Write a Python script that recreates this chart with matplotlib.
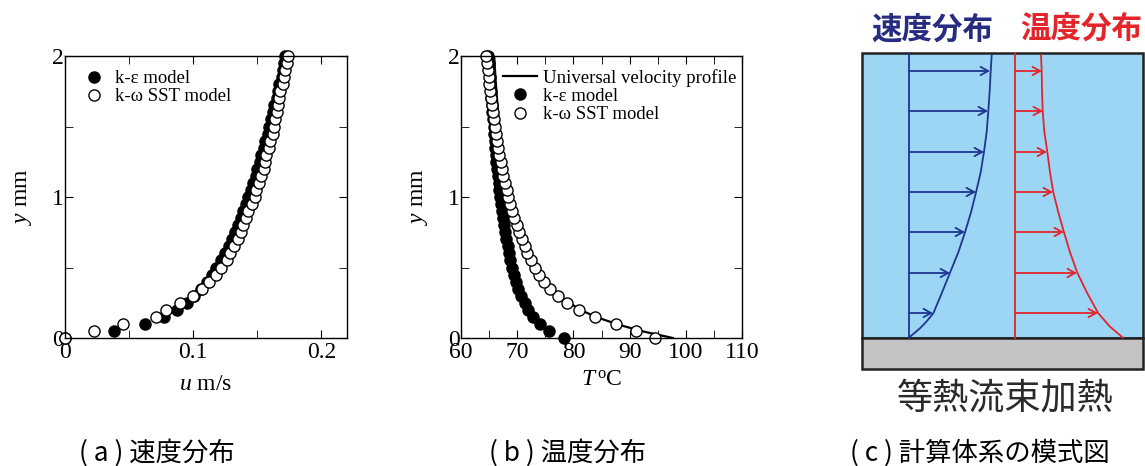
import matplotlib
matplotlib.use("Agg")
import matplotlib.pyplot as plt
import numpy as np
from matplotlib.patches import Rectangle
from matplotlib.ticker import MultipleLocator

# 高さ y [mm] (0 - 2 mm, 0.05 mm ピッチ)
y_mm = [0.00, 0.05, 0.10, 0.15, 0.20, 0.25, 0.30, 0.35, 0.40, 0.45,
        0.50, 0.55, 0.60, 0.65, 0.70, 0.75, 0.80, 0.85, 0.90, 0.95,
        1.00, 1.05, 1.10, 1.15, 1.20, 1.25, 1.30, 1.35, 1.40, 1.45,
        1.50, 1.55, 1.60, 1.65, 1.70, 1.75, 1.80, 1.85, 1.90, 1.95, 2.00]

# (a) 速度分布 u [m/s]
u_keps = [0.000, 0.038, 0.0625, 0.077, 0.087, 0.095, 0.101, 0.106, 0.111, 0.115,
          0.118, 0.122, 0.125, 0.128, 0.130, 0.133, 0.135, 0.137, 0.139, 0.141,
          0.143, 0.145, 0.147, 0.149, 0.150, 0.152, 0.153, 0.155, 0.156, 0.158,
          0.159, 0.161, 0.162, 0.163, 0.165, 0.166, 0.167, 0.169, 0.170, 0.171, 0.172]
u_sst = [0.000, 0.023, 0.045, 0.071, 0.079, 0.090, 0.100, 0.107, 0.112, 0.118,
         0.122, 0.126, 0.129, 0.132, 0.135, 0.137, 0.139, 0.141, 0.143, 0.146,
         0.148, 0.149, 0.151, 0.153, 0.155, 0.156, 0.157, 0.159, 0.160, 0.162,
         0.163, 0.164, 0.165, 0.166, 0.167, 0.168, 0.170, 0.171, 0.172, 0.173, 0.174]

# (b) 温度分布 T [°C]
T_keps = [78.3, 75.7, 74.0, 72.8, 72.0, 71.3, 70.7, 70.2, 69.8, 69.4,
          69.1, 68.8, 68.5, 68.3, 68.0, 67.8, 67.6, 67.4, 67.3, 67.1,
          67.0, 66.8, 66.7, 66.6, 66.4, 66.3, 66.2, 66.1, 66.0, 65.9,
          65.8, 65.7, 65.6, 65.5, 65.4, 65.3, 65.2, 65.1, 65.0, 64.9, 64.8]
T_sst = [94.5, 91.2, 87.5, 83.8, 81.0, 78.9, 77.3, 75.9, 74.8, 73.9,
         73.2, 72.4, 71.8, 71.3, 70.8, 70.4, 69.9, 69.5, 69.1, 68.8,
         68.4, 68.1, 67.8, 67.5, 67.3, 67.1, 66.8, 66.6, 66.4, 66.2,
         66.0, 65.9, 65.7, 65.5, 65.4, 65.2, 65.0, 64.9, 64.8, 64.6, 64.4]
y_univ = [0.0, 0.05, 0.1, 0.15, 0.2, 0.3, 0.4, 0.5, 0.6, 0.8, 1.0, 1.2, 1.4, 1.6, 1.8, 2.0]
T_univ = [97.7, 92.0, 87.6, 84.0, 81.2, 77.4, 75.0, 73.3, 72.0, 70.2, 68.8, 67.8, 67.1, 66.6, 66.2, 65.9]

# (c) 模式図 (画素座標)
arrow_y = [71, 111, 152, 192, 232, 273, 313]
vel_tip_x = [990, 988, 984, 976, 965, 950, 933]
tmp_tip_x = [1042, 1043, 1047, 1053, 1064, 1077, 1098]
vel_curve_x = [991.7, 990.7, 989.7, 988.3, 986.7, 984.0, 980.7, 976.0, 971.0, 965.0,
               958.3, 950.0, 941.7, 933.3, 926.5, 920.5, 914.5, 909.0]
vel_curve_y = [55, 71, 91, 111, 131.7, 151.7, 172.3, 192.3, 212.3, 232.3,
               252.3, 272.7, 293.3, 313.3, 321.5, 327.8, 333.0, 337.5]
tmp_curve_x = [1041.0, 1041.7, 1042.0, 1042.7, 1044.3, 1047.3, 1050.0, 1053.3, 1058.3, 1064.0,
               1070.0, 1077.3, 1087.3, 1098.3, 1110.0, 1122.7]
tmp_curve_y = [55, 71, 91, 111, 131.7, 151.7, 172.3, 192.3, 212.3, 232.3,
               252.3, 272.7, 293.3, 313.3, 326.7, 337.5]

captions = ["( a ) 速度分布", "( b ) 温度分布", "( c ) 計算体系の模式図"]

plt.rcParams['font.family'] = ['Liberation Serif', 'DejaVu Serif']
plt.rcParams['mathtext.fontset'] = 'custom'
plt.rcParams['mathtext.rm'] = 'Liberation Serif'
plt.rcParams['mathtext.it'] = 'Liberation Serif:italic'

W, H = 1145, 466
fig = plt.figure(figsize=(W / 100, H / 100), dpi=100)

def setup(ax):
    ax.set_ylim(0, 2)
    ax.yaxis.set_major_locator(MultipleLocator(1))
    ax.yaxis.set_minor_locator(MultipleLocator(0.5))
    ax.tick_params(which='both', direction='in', top=True, right=True, labelsize=17)
    ax.tick_params(which='both', length=6)
    ax.tick_params(axis='y', pad=1)
    ax.tick_params(axis='x', pad=3)
    ax.set_ylabel("$y$ mm", fontsize=17, labelpad=13)
    for s in ax.spines.values():
        s.set_linewidth(1.0)

mk = dict(linestyle='none', markersize=8, markeredgewidth=1.0, markeredgecolor='black',
          clip_on=False)
leg_kw = dict(loc='upper left', frameon=False, fontsize=13.5, labelspacing=0.06,
              borderaxespad=0.0, borderpad=0.0)

# (a)
ax1 = fig.add_axes([65 / W, 1 - 338 / H, 282 / W, 282 / H])
ax1.plot(u_keps, y_mm, marker='o', color='black', label='k-ε model', **mk)
ax1.plot(u_sst, y_mm, marker='o', markerfacecolor='white', color='black', label='k-ω SST model', **mk)
ax1.set_xlim(0, 0.22)
ax1.xaxis.set_minor_locator(MultipleLocator(0.05))
ax1.set_xticks([0, 0.1, 0.2])
ax1.set_xticklabels(["0", "0.1", "0.2"])
setup(ax1)
ax1.set_xlabel("$u$ m/s", fontsize=17, labelpad=8)
ax1.legend(handlelength=1.2, handletextpad=0.5, bbox_to_anchor=(0.063, 0.95), **leg_kw)

# (b)
ax2 = fig.add_axes([461 / W, 1 - 338 / H, 281 / W, 282 / H])
ax2.plot(T_univ, y_univ, color='black', lw=1.6, label='Universal velocity profile')
ax2.plot(T_keps, y_mm, marker='o', color='black', label='k-ε model', **mk)
ax2.plot(T_sst, y_mm, marker='o', markerfacecolor='white', color='black', label='k-ω SST model', **mk)
ax2.set_xlim(60, 110)
ax2.xaxis.set_major_locator(MultipleLocator(10))
ax2.xaxis.set_minor_locator(MultipleLocator(5))
setup(ax2)
ax2.set_xlabel("$T\\,^{\\mathrm{o}}$C", fontsize=17, labelpad=5)
ax2.legend(handlelength=1.8, handletextpad=0.3, bbox_to_anchor=(0.15, 0.955), **leg_kw)

# (c) 模式図 + キャプション
axc = fig.add_axes([0, 0, 1, 1], zorder=-1)
axc.set_xlim(0, W)
axc.set_ylim(H, 0)
axc.axis('off')

axc.add_patch(Rectangle((862, 53), 281, 285, facecolor='#9dd6f4', edgecolor='#222222', lw=1.8))
axc.add_patch(Rectangle((862, 338), 281, 31, facecolor='#c3c3c3', edgecolor='#222222', lw=1.8))

blue = '#1f3592'
red = '#e3242b'
axc.plot([909, 909], [53, 338], color=blue, lw=1.3)
axc.plot(vel_curve_x, vel_curve_y, color=blue, lw=1.3)
axc.plot([1015, 1015], [53, 338], color=red, lw=1.3)
axc.plot(tmp_curve_x, tmp_curve_y, color=red, lw=1.3)
for yy, xb, xr in zip(arrow_y, vel_tip_x, tmp_tip_x):
    axc.annotate('', xy=(xb, yy), xytext=(909, yy),
                 arrowprops=dict(arrowstyle='->,head_length=0.55,head_width=0.3', color=blue, lw=1.3,
                                 shrinkA=0, shrinkB=0))
    axc.annotate('', xy=(xr, yy), xytext=(1015, yy),
                 arrowprops=dict(arrowstyle='->,head_length=0.55,head_width=0.3', color=red, lw=1.3,
                                 shrinkA=0, shrinkB=0))

jp = ['Noto Sans CJK JP', 'DejaVu Sans']
axc.text(932, 30, "速度分布", color='#262d80', fontsize=22, fontweight='bold', family=jp,
         ha='center', va='center')
axc.text(1081, 30, "温度分布", color=red, fontsize=22, fontweight='bold', family=jp,
         ha='center', va='center')
axc.text(1005, 398, "等熱流束加熱", color='#2a2a2a', fontsize=26, family=jp,
         ha='center', va='center')

axc.text(157, 453, captions[0], fontsize=19, family=jp, ha='center', va='center')
axc.text(568, 453, captions[1], fontsize=19, family=jp, ha='center', va='center')
axc.text(980, 453, captions[2], fontsize=19, family=jp, ha='center', va='center')

fig.savefig("out.png", dpi=100)
